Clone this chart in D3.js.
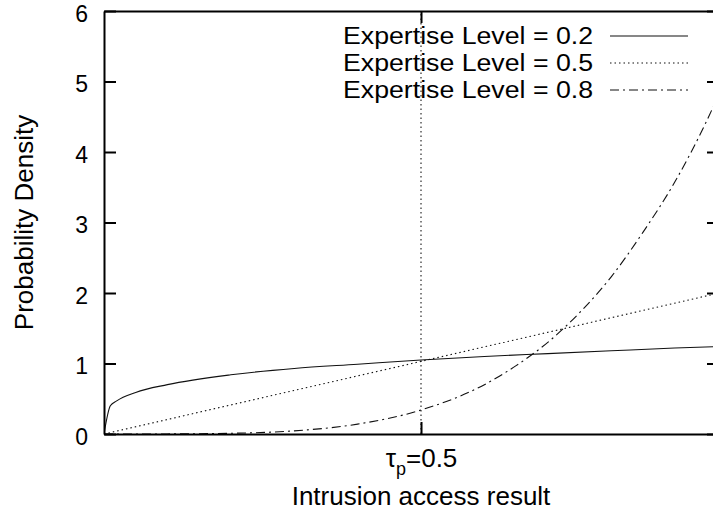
<!DOCTYPE html>
<html>
<head>
<meta charset="utf-8">
<script src="https://cdn.jsdelivr.net/npm/d3@7/dist/d3.min.js"></script>
<style>
  body { margin: 0; background: #fff; }
  svg text { font-family: "Liberation Sans", Arial, Helvetica, sans-serif; fill: #000; }
</style>
</head>
<body>
<div id="viz"></div>
<script>
// values
var labels = ['Expertise Level = 0.2', 'Expertise Level = 0.5', 'Expertise Level = 0.8'];

var x02 = [0, 0.01, 0.02, 0.05, 0.1, 0.2, 0.3, 0.4, 0.5, 0.6, 0.7, 0.8, 0.9, 0.97];
var y02 = [0, 0.40, 0.47, 0.59, 0.70, 0.84, 0.93, 0.99, 1.05, 1.10, 1.14, 1.18, 1.22, 1.24];

var x05 = [0, 0.5, 0.97];
var y05 = [0, 1.03, 2.0];

var x08 = [0, 0.1, 0.2, 0.3, 0.4, 0.5, 0.6, 0.65, 0.7, 0.75, 0.8, 0.85, 0.9, 0.95, 0.97];
var y08 = [0, 0.001, 0.01, 0.045, 0.14, 0.34, 0.70, 0.97, 1.30, 1.72, 2.23, 2.86, 3.57, 4.43, 4.82];

var yTicks = [0, 1, 2, 3, 4, 5, 6];
var xTicks = [0.5];   // tau_p marker
var xTickParts = ['\u03c4', 'p', '=0.5'];
var xTitle = 'Intrusion access result';
var yTitle = 'Probability Density';

var margin = { top: 11, right: -6, bottom: 87, left: 104 },
    W = 713, H = 521,
    width = W - margin.left - margin.right,
    height = H - margin.top - margin.bottom;

var dashes = [null, '1.5,3', '9,4,2,4'];

var xScale = d3.scaleLinear().domain([0, 0.97]).range([0, width]);
var yScale = d3.scaleLinear().domain([0, 6]).range([height, 0]);

var svg = d3.select('#viz').append('svg')
  .attr('width', W)
  .attr('height', H);

var g = svg.append('g')
  .attr('transform', 'translate(' + margin.left + ',' + margin.top + ')');

g.append('clipPath').attr('id', 'clip')
  .append('rect').attr('width', width).attr('height', height);

var series = [
  x02.map(function(v, i) { return [v, y02[i]]; }),
  x05.map(function(v, i) { return [v, y05[i]]; }),
  x08.map(function(v, i) { return [v, y08[i]]; })
];

var line = d3.line()
  .x(function(d) { return xScale(d[0]); })
  .y(function(d) { return yScale(d[1]); })
  .curve(d3.curveMonotoneX);

// tau_p vertical marker
g.append('line')
  .attr('x1', xScale(xTicks[0])).attr('x2', xScale(xTicks[0]))
  .attr('y1', yScale(0)).attr('y2', yScale(6))
  .attr('stroke', '#000').attr('stroke-width', 1)
  .attr('stroke-dasharray', '1.5,3');

g.append('g').attr('clip-path', 'url(#clip)')
  .selectAll('path').data(series)
  .enter().append('path')
    .attr('d', line)
    .attr('fill', 'none')
    .attr('stroke', '#111')
    .attr('stroke-width', 1.1)
    .attr('stroke-dasharray', function(d, i) { return dashes[i]; });

// axes (ticks point inward, like gnuplot)
var yLeft = g.append('g')
  .call(d3.axisLeft(yScale).tickValues(yTicks).tickFormat(d3.format('d'))
    .tickSizeInner(-12).tickSizeOuter(0).tickPadding(16));
var yRight = g.append('g')
  .attr('transform', 'translate(' + width + ',0)')
  .call(d3.axisLeft(yScale).tickValues(yTicks).tickSizeInner(12).tickSizeOuter(0).tickFormat(''));
var xBottom = g.append('g')
  .attr('transform', 'translate(0,' + height + ')')
  .call(d3.axisBottom(xScale).tickValues(xTicks).tickSizeInner(-12).tickSizeOuter(0).tickFormat(''));
var xTop = g.append('g')
  .call(d3.axisBottom(xScale).tickValues(xTicks).tickSizeInner(12).tickSizeOuter(0).tickFormat(''));

[yLeft, yRight, xBottom, xTop].forEach(function(a) {
  a.selectAll('path').attr('stroke', '#000').attr('stroke-width', 2);
  a.selectAll('line').attr('stroke', '#000').attr('stroke-width', 2);
  a.selectAll('text').attr('font-size', 23).attr('font-family', null);
});
yLeft.selectAll('text').attr('dy', '0.44em');

// tau_p label with subscript
var tl = xBottom.select('.tick text')
  .attr('y', 33).attr('dy', 0).attr('font-size', 26);
tl.append('tspan').text(xTickParts[0]);
tl.append('tspan').attr('font-size', 18).attr('dy', 8).text(xTickParts[1]);
tl.append('tspan').attr('dy', -8).text(xTickParts[2]);

svg.append('text')
  .attr('x', margin.left + xScale(xTicks[0]))
  .attr('y', 505)
  .attr('text-anchor', 'middle')
  .attr('font-size', 26)
  .text(xTitle);

svg.append('text')
  .attr('transform', 'translate(33,' + (margin.top + height / 2) + ') rotate(-90)')
  .attr('text-anchor', 'middle')
  .attr('font-size', 26)
  .text(yTitle);

// legend
var legend = svg.append('g').selectAll('g').data(labels)
  .enter().append('g')
    .attr('transform', function(d, i) { return 'translate(0,' + (36 + i * 27) + ')'; });

legend.append('text')
  .attr('x', 593)
  .attr('dy', '0.35em')
  .attr('text-anchor', 'end')
  .attr('font-size', 23)
  .attr('textLength', 250)
  .attr('lengthAdjust', 'spacingAndGlyphs')
  .text(function(d) { return d; });

legend.append('line')
  .attr('x1', 610).attr('x2', 688)
  .attr('stroke', '#111').attr('stroke-width', 1.1)
  .attr('stroke-dasharray', function(d, i) { return dashes[i]; });
</script>
</body>
</html>
